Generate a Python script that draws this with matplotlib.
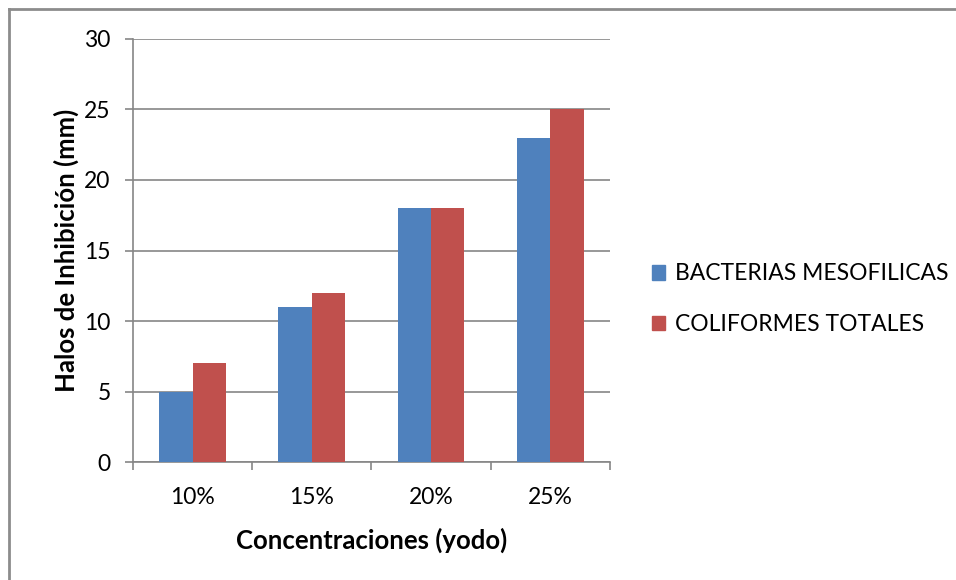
import matplotlib.pyplot as plt
import numpy as np
from matplotlib.lines import Line2D
from matplotlib.patches import Patch

# datos del ensayo de halos de inhibicion
concentraciones = ['10%', '15%', '20%', '25%']
bacterias_mesofilicas = [5, 11, 18, 23]
coliformes_totales = [7, 12, 18, 25]
series_nombres = ['BACTERIAS MESOFILICAS', 'COLIFORMES TOTALES']
y_ticks = [0, 5, 10, 15, 20, 25, 30]

azul = '#4F81BD'
rojo = '#C0504D'
gris = '#868686'

plt.rcParams['font.family'] = ['Lato', 'DejaVu Sans']

fig = plt.figure(figsize=(9.56, 5.8), dpi=100)
ax = fig.add_axes([0.139, 0.2034, 0.499, 0.7294])

x = np.arange(len(concentraciones))
w = 0.28
ax.bar(x - w / 2, bacterias_mesofilicas, w, color=azul, zorder=3)
ax.bar(x + w / 2, coliformes_totales, w, color=rojo, zorder=3)

ax.set_xlim(-0.5, len(concentraciones) - 0.5)
ax.set_ylim(0, 30)
ax.set_yticks(y_ticks)
ax.set_yticklabels([str(v) for v in y_ticks], fontsize=16.5)
ax.set_xticks(x)
ax.set_xticklabels(concentraciones, fontsize=16.5)
ax.tick_params(axis='x', length=0, pad=18)
ax.tick_params(axis='y', length=6, width=1.2, color=gris, pad=10)

# marcas entre categorias en el eje x
ax.set_xticks(np.arange(-0.5, len(concentraciones)), minor=True)
ax.tick_params(axis='x', which='minor', length=6, width=1.2, color=gris)

ax.yaxis.grid(True, color=gris, linewidth=1.2, zorder=0)
for s in ['top', 'right']:
    ax.spines[s].set_visible(False)
for s in ['left', 'bottom']:
    ax.spines[s].set_color(gris)
    ax.spines[s].set_linewidth(1.2)

ax.set_ylabel('Halos de Inhibición (mm)', fontsize=18.5, fontweight='bold', labelpad=4)
ax.set_xlabel('Concentraciones (yodo)', fontsize=18.5, fontweight='bold', labelpad=14)

handles = [Patch(color=azul), Patch(color=rojo)]
fig.legend(handles, series_nombres, loc='center left', bbox_to_anchor=(0.66, 0.484),
           frameon=False, fontsize=16.5, handlelength=0.6, handleheight=0.6,
           handletextpad=0.4, labelspacing=1.3)

# borde del area del grafico (solo izquierda y arriba)
fig.add_artist(Line2D([0.0094, 0.0094], [0, 0.9845], color='#8c8c8c', linewidth=2,
                      transform=fig.transFigure))
fig.add_artist(Line2D([0.0094, 1.0], [0.9845, 0.9845], color='#8c8c8c', linewidth=2,
                      transform=fig.transFigure))

fig.savefig('out.png', dpi=100)
